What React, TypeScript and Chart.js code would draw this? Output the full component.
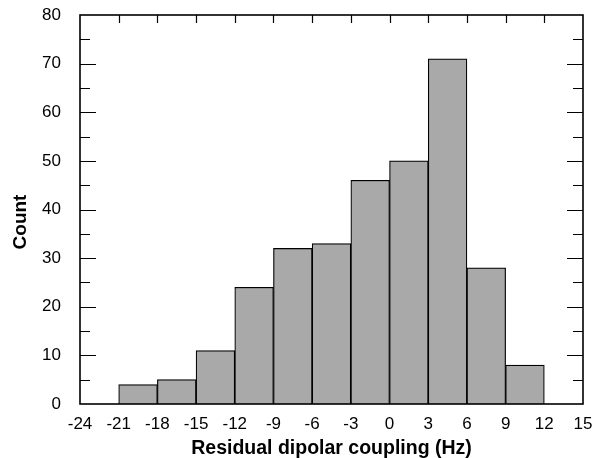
import React, { useEffect, useRef } from "react";
import { Chart, registerables } from "chart.js";

Chart.register(...registerables);

const binStarts = [-21, -18, -15, -12, -9, -6, -3, 0, 3, 6, 9];
const binWidth = 3;
const counts = [4, 5, 11, 24, 32, 33, 46, 50, 71, 28, 8];
const xMin = -24;
const xMax = 15;
const yMin = 0;
const yMax = 80;
const xTitle = "Residual dipolar coupling (Hz)";
const yTitle = "Count";

const FONT = "'Liberation Sans', Arial, Helvetica, sans-serif";

const framePlugin = {
  id: "framePlugin",
  afterDraw(chart: any) {
    const { ctx, chartArea } = chart;
    const xs = chart.scales.x;
    const ys = chart.scales.y;
    const { left, right, top, bottom } = chartArea;
    ctx.save();
    ctx.strokeStyle = "#000";
    ctx.lineWidth = 1.6;
    ctx.strokeRect(left, top, right - left, bottom - top);
    ctx.lineWidth = 1.2;
    ctx.beginPath();
    for (let v = yMin + 5; v < yMax; v += 5) {
      const py = Math.round(ys.getPixelForValue(v)) + 0.5;
      const len = v % 10 === 0 ? 16 : 10;
      ctx.moveTo(left, py);
      ctx.lineTo(left + len, py);
      ctx.moveTo(right, py);
      ctx.lineTo(right - len, py);
    }
    for (let v = xMin + 3; v < xMax; v += 3) {
      const px = Math.round(xs.getPixelForValue(v)) + 0.5;
      ctx.moveTo(px, top);
      ctx.lineTo(px, top + 8);
    }
    ctx.stroke();
    ctx.fillStyle = "#000";
    ctx.font = `bold 19px ${FONT}`;
    ctx.textAlign = "center";
    ctx.textBaseline = "middle";
    ctx.translate(20.5, 222);
    ctx.rotate(-Math.PI / 2);
    ctx.fillText(yTitle, 0, 0);
    ctx.restore();
  },
};

export default function App() {
  const ref = useRef<HTMLCanvasElement | null>(null);
  useEffect(() => {
    document.body.style.margin = "0";
    if (!ref.current) return;
    const data = binStarts.map((s, i) => ({ x: s + binWidth / 2, y: counts[i] }));
    const chart = new Chart(ref.current, {
      type: "bar",
      data: {
        datasets: [
          {
            data: data as any,
            backgroundColor: "#a9a9a9",
            borderColor: "#000",
            borderWidth: 1.2,
            barPercentage: 1,
            categoryPercentage: 1,
          },
        ],
      },
      options: {
        animation: false,
        responsive: false,
        events: [],
        layout: { padding: { top: 15, right: 14, left: 0, bottom: 0 } },
        plugins: { legend: { display: false }, tooltip: { enabled: false } },
        scales: {
          x: {
            type: "linear",
            min: xMin,
            max: xMax,
            offset: false,
            grid: { display: false, drawTicks: false },
            border: { display: false },
            ticks: {
              stepSize: 3,
              autoSkip: false,
              maxRotation: 0,
              padding: 10,
              color: "#000",
              font: { family: FONT, size: 17 },
            },
            title: {
              display: true,
              text: xTitle,
              color: "#000",
              padding: 0,
              font: { family: FONT, size: 19.5, weight: "bold", lineHeight: 1 },
            },
            afterFit(scale: any) {
              scale.height = 54;
              scale.paddingLeft = 0;
              scale.paddingRight = 0;
            },
          },
          y: {
            min: yMin,
            max: yMax,
            grid: { display: false, drawTicks: false },
            border: { display: false },
            ticks: {
              stepSize: 10,
              padding: 19,
              color: "#000",
              font: { family: FONT, size: 17 },
            },
            afterFit(scale: any) {
              scale.width = 80;
              scale.paddingTop = 0;
              scale.paddingBottom = 0;
            },
          },
        },
      },
      plugins: [framePlugin],
    });
    return () => chart.destroy();
  }, []);
  return (
    <div style={{ position: "absolute", left: 0, top: 0, width: 597, height: 458, background: "#fff" }}>
      <canvas ref={ref} width={597} height={458} />
    </div>
  );
}
